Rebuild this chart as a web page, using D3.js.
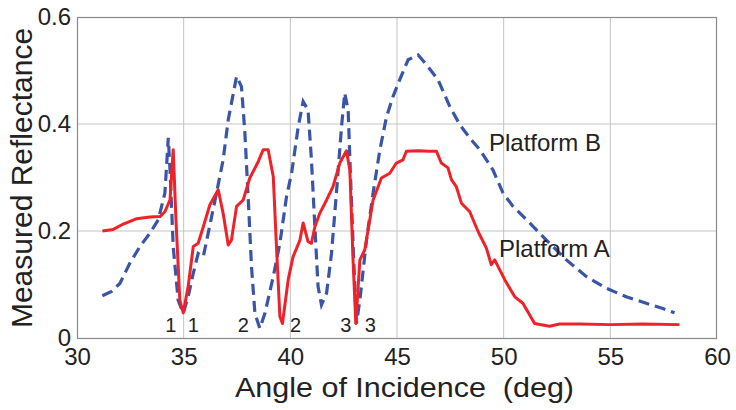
<!DOCTYPE html>
<html><head><meta charset="utf-8">
<script src="https://cdn.jsdelivr.net/npm/d3@7"></script>
<style>body{margin:0;background:#fff}svg{display:block}text{font-family:"Liberation Sans",Arial,sans-serif;fill:#222}</style>
</head><body>
<svg id="c" width="736" height="410"></svg>
<script>
const xTicks = [30,35,40,45,50,55,60];
const yTicks = [0,0.2,0.4,0.6];
const xTickLabels = ["30","35","40","45","50","55","60"];
const yTickLabels = ["0","0.2","0.4","0.6"];

const angleA = [31.19,31.7,32.17,32.8,33.42,33.89,34.12,34.36,34.51,34.64,34.82,34.98,35.21,35.45,35.68,35.92,36.23,36.62,36.85,37.09,37.24,37.48,37.79,38.1,38.5,38.73,38.96,39.2,39.35,39.51,39.63,39.9,40.13,40.45,40.6,40.83,40.99,41.15,41.38,41.7,42.0,42.32,42.63,42.79,42.94,43.07,43.26,43.49,43.88,44.27,44.66,44.97,45.28,45.44,46.0,46.5,46.85,47.08,47.39,47.55,47.78,48.02,48.41,48.8,49.19,49.42,49.58,50.05,50.52,50.9,51.45,52.15,52.62,53.56,55.0,56.5,58.24];
const reflA = [0.200,0.203,0.213,0.223,0.226,0.227,0.236,0.258,0.352,0.22,0.071,0.047,0.096,0.171,0.177,0.208,0.249,0.277,0.233,0.174,0.183,0.246,0.258,0.299,0.33,0.352,0.352,0.302,0.171,0.04,0.027,0.109,0.152,0.183,0.215,0.18,0.177,0.208,0.233,0.258,0.283,0.327,0.35,0.314,0.146,0.027,0.146,0.165,0.258,0.299,0.308,0.327,0.333,0.349,0.350,0.349,0.349,0.327,0.318,0.296,0.283,0.252,0.236,0.199,0.168,0.137,0.146,0.109,0.077,0.065,0.027,0.022,0.026,0.026,0.025,0.026,0.025];

const angleB = [31.19,31.62,32.01,32.48,32.95,33.42,33.81,34.12,34.28,34.36,34.51,34.74,34.98,35.21,35.45,35.68,35.92,36.15,36.54,36.85,37.09,37.48,37.71,37.87,38.03,38.18,38.34,38.57,38.81,39.2,39.51,39.82,40.06,40.37,40.6,40.83,40.99,41.15,41.3,41.46,41.7,41.93,42.16,42.4,42.55,42.71,42.82,42.97,43.1,43.26,43.57,43.88,44.19,44.5,44.81,45.13,45.52,45.99,46.38,46.92,47.47,47.94,48.41,48.88,49.5,49.97,50.44,51.22,52.0,52.94,53.87,54.81,55.75,56.68,57.46,58.01];
const reflB = [0.079,0.087,0.102,0.14,0.171,0.196,0.221,0.271,0.374,0.314,0.171,0.071,0.046,0.077,0.121,0.158,0.152,0.196,0.271,0.333,0.408,0.489,0.47,0.383,0.258,0.133,0.046,0.018,0.046,0.115,0.177,0.264,0.308,0.395,0.442,0.426,0.333,0.208,0.096,0.062,0.084,0.158,0.271,0.395,0.458,0.426,0.302,0.146,0.027,0.071,0.183,0.271,0.35,0.412,0.451,0.483,0.52,0.529,0.511,0.483,0.433,0.399,0.374,0.352,0.314,0.271,0.246,0.215,0.183,0.146,0.115,0.093,0.077,0.065,0.055,0.047];

const markLabels = ["1","1","2","2","3","3"];
const markAngles = [34.4,35.45,37.8,40.25,42.6,43.75];
const markRefl = 0.012;

const seriesNames = ["Platform B","Platform A"];
const seriesLabelX = [49.31,49.78];
const seriesLabelY = [0.350,0.151];

const svg = d3.select("#c");
const L=77,R=717,T=17,B=338;
const x = d3.scaleLinear().domain([30,60]).range([L,R]);
const y = d3.scaleLinear().domain([0,0.6]).range([B,T]);

// grid
svg.append("g").selectAll("line").data(xTicks.slice(1,-1)).join("line")
  .attr("x1",d=>x(d)).attr("x2",d=>x(d)).attr("y1",T).attr("y2",B)
  .attr("stroke","#c4c4c4").attr("stroke-width",1);
svg.append("g").selectAll("line").data(yTicks.slice(1,-1)).join("line")
  .attr("x1",L).attr("x2",R).attr("y1",d=>y(d)).attr("y2",d=>y(d))
  .attr("stroke","#c4c4c4").attr("stroke-width",1);

// frame
svg.append("rect").attr("x",L+0.5).attr("y",T+0.5).attr("width",R-L-1).attr("height",B-T)
  .attr("fill","none").attr("stroke","#8a8a8a").attr("stroke-width",1.2);

// axes tick labels
const xa = d3.axisBottom(x).tickValues(xTicks).tickFormat((d,i)=>xTickLabels[i]).tickSize(0).tickPadding(0);
const gx = svg.append("g").attr("transform",`translate(0,${B})`).call(xa);
gx.select(".domain").remove();
gx.selectAll("text").attr("font-size",24).attr("fill","#222").attr("y",27).attr("dy",0)
  .style("font-family",'"Liberation Sans",Arial,sans-serif');

const ya = d3.axisLeft(y).tickValues(yTicks).tickFormat((d,i)=>yTickLabels[i]).tickSize(0).tickPadding(6);
const gy = svg.append("g").attr("transform",`translate(${L},0)`).call(ya);
gy.select(".domain").remove();
gy.selectAll("text").attr("font-size",24).attr("fill","#222")
  .style("font-family",'"Liberation Sans",Arial,sans-serif');

// lines
const line = d3.line().x(d=>x(d[0])).y(d=>y(d[1])).curve(d3.curveLinear);
const dataB = angleB.map((a,i)=>[a,reflB[i]]);
const dataA = angleA.map((a,i)=>[a,reflA[i]]);
svg.append("path").datum(dataB).attr("d",line).attr("fill","none")
  .attr("stroke","#3a55a6").attr("stroke-width",3.2).attr("stroke-dasharray","11,6");
svg.append("path").datum(dataA).attr("d",line).attr("fill","none")
  .attr("stroke","#ee2228").attr("stroke-width",3).attr("stroke-linejoin","round");

// annotations
svg.append("g").selectAll("text").data(markLabels).join("text")
  .attr("x",(d,i)=>x(markAngles[i])).attr("y",y(markRefl))
  .attr("text-anchor","middle").attr("font-size",20).text(d=>d);

svg.append("g").selectAll("text").data(seriesNames).join("text")
  .attr("x",(d,i)=>x(seriesLabelX[i])).attr("y",(d,i)=>y(seriesLabelY[i]))
  .attr("font-size",24).text(d=>d);

// titles
svg.append("text").attr("x",235).attr("y",397)
  .attr("font-size",27).attr("textLength",339).attr("lengthAdjust","spacingAndGlyphs")
  .style("white-space","pre").text("Angle of Incidence  (deg)");
svg.append("text").attr("transform","translate(32,178) rotate(-90)").attr("text-anchor","middle")
  .attr("font-size",30).text("Measured Reflectance");
</script>
</body></html>
